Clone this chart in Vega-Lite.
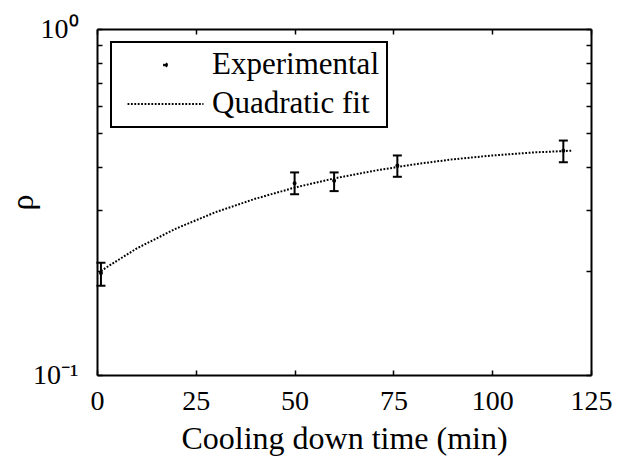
{
  "$schema": "https://vega.github.io/schema/vega-lite/v6.json",
  "width": 494,
  "height": 346,
  "autosize": {"type": "none"},
  "padding": {"left": 97, "top": 29, "right": 26, "bottom": 88},
  "background": "white",
  "datasets": {
    "exp": [
      {"t": 1, "rho": 0.197, "lo": 0.181, "hi": 0.211, "series": "Experimental"},
      {"t": 50, "rho": 0.358, "lo": 0.333, "hi": 0.385, "series": "Experimental"},
      {"t": 60, "rho": 0.364, "lo": 0.340, "hi": 0.385, "series": "Experimental"},
      {"t": 76, "rho": 0.403, "lo": 0.374, "hi": 0.431, "series": "Experimental"},
      {"t": 118, "rho": 0.445, "lo": 0.412, "hi": 0.476, "series": "Experimental"}
    ],
    "fit": [
      {"t": 1, "rho": 0.200},
      {"t": 10, "rho": 0.232},
      {"t": 20, "rho": 0.265},
      {"t": 30, "rho": 0.2955},
      {"t": 40, "rho": 0.323},
      {"t": 50, "rho": 0.348},
      {"t": 60, "rho": 0.370},
      {"t": 70, "rho": 0.389},
      {"t": 80, "rho": 0.406},
      {"t": 90, "rho": 0.420},
      {"t": 100, "rho": 0.431},
      {"t": 110, "rho": 0.4395},
      {"t": 120, "rho": 0.445}
    ]
  },
  "resolve": {"axis": {"x": "independent", "y": "independent"}},
  "layer": [
    {
      "data": {"name": "fit"},
      "mark": {"type": "line", "color": "black", "strokeWidth": 2, "strokeDash": [1.8, 1.6]},
      "encoding": {
        "x": {"field": "t", "type": "quantitative",
              "scale": {"domain": [0, 125], "nice": false, "zero": false},
              "axis": {"orient": "bottom", "values": [0, 25, 50, 75, 100, 125], "title": "Cooling down time (min)",
                       "tickSize": -5, "labelPadding": 17, "titleY": 73, "titleBaseline": "alphabetic"}},
        "y": {"field": "rho", "type": "quantitative",
              "scale": {"type": "log", "domain": [0.1, 1], "nice": false},
              "axis": {"orient": "left", "values": [0.1, 0.2, 0.3, 0.4, 0.5, 0.6, 0.7, 0.8, 0.9, 1],
                       "labelExpr": "datum.value == 1 ? '10⁰' : (datum.value == 0.1 ? '10⁻¹' : '')",
                       "tickSize": -5, "labelPadding": 24, "labelBaseline": "middle",
                       "title": "ρ", "titleX": -75, "titleY": 173, "titleAngle": -90,
                       "titleAlign": "center", "titleBaseline": "middle"}}
      }
    },
    {
      "data": {"name": "exp"},
      "mark": {"type": "rule", "color": "black", "strokeWidth": 2},
      "encoding": {
        "x": {"field": "t", "type": "quantitative", "axis": null},
        "y": {"field": "lo", "type": "quantitative", "axis": null},
        "y2": {"field": "hi"}
      }
    },
    {
      "data": {"name": "exp"},
      "mark": {"type": "tick", "color": "black", "orient": "horizontal", "size": 9, "thickness": 2, "opacity": 1},
      "encoding": {
        "x": {"field": "t", "type": "quantitative",
              "axis": {"orient": "top", "values": [0, 25, 50, 75, 100, 125], "labels": false, "title": null, "tickSize": -5}},
        "y": {"field": "lo", "type": "quantitative",
              "axis": {"orient": "right", "values": [0.1, 0.2, 0.3, 0.4, 0.5, 0.6, 0.7, 0.8, 0.9, 1], "labels": false, "title": null, "tickSize": -5}}
      }
    },
    {
      "data": {"name": "exp"},
      "mark": {"type": "tick", "color": "black", "orient": "horizontal", "size": 9, "thickness": 2, "opacity": 1},
      "encoding": {
        "x": {"field": "t", "type": "quantitative", "axis": null},
        "y": {"field": "hi", "type": "quantitative", "axis": null}
      }
    },
    {
      "data": {"name": "exp"},
      "mark": {"type": "point", "filled": true, "color": "black", "stroke": "black", "strokeWidth": 2, "size": 4, "opacity": 1},
      "encoding": {
        "x": {"field": "t", "type": "quantitative", "axis": null},
        "y": {"field": "rho", "type": "quantitative", "axis": null},
        "shape": {"field": "series", "type": "nominal",
                  "scale": {"domain": ["Experimental", "Quadratic fit"], "range": ["circle", "M-25.3,0L25.3,0"]},
                  "legend": {
                    "title": null, "orient": "none", "legendX": 14, "legendY": 13,
                    "strokeColor": "black", "fillColor": "white", "padding": 7.5,
                    "symbolSize": 9, "symbolOffset": 31.5, "labelOffset": 31, "rowPadding": 7,
                    "symbolStrokeWidth": 2, "symbolDash": [1.8, 1.6], "symbolOpacity": 1,
                    "labelFont": "Liberation Serif", "labelFontSize": 31, "labelColor": "black", "labelLimit": 400
                  }}
      }
    }
  ],
  "config": {
    "view": {"stroke": null},
    "font": "Liberation Serif",
    "legend": {"strokeWidth": 2},
    "axis": {
      "domainColor": "black", "domainWidth": 2, "tickColor": "black", "tickWidth": 1.5,
      "grid": false, "labelFont": "Liberation Serif", "labelFontSize": 28, "labelColor": "black",
      "titleFont": "Liberation Serif", "titleFontSize": 32, "titleColor": "black", "titleFontWeight": "normal",
      "labelOverlap": false, "labelFlush": false
    }
  }
}
